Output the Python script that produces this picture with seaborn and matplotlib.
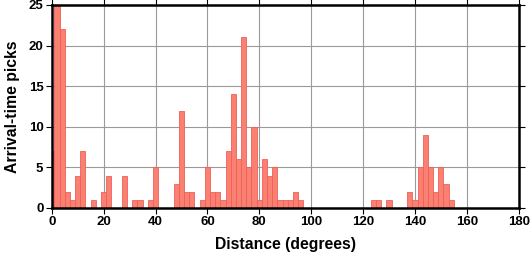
import matplotlib
matplotlib.use("Agg")
import matplotlib.pyplot as plt
import seaborn as sns
import numpy as np
import pandas as pd

# bin centres (degrees) and pick counts
distance = [0, 2, 4, 6, 8, 10, 12, 16, 20, 22, 28, 32, 34, 38, 40,
            48, 50, 52, 54, 58, 60, 62, 64, 66, 68, 70, 72, 74, 76, 78,
            80, 82, 84, 86, 88, 90, 92, 94, 96,
            124, 126, 130, 138, 140, 142, 144, 146, 148, 150, 152, 154]
picks = [7, 25, 22, 2, 1, 4, 7, 1, 2, 4, 4, 1, 1, 1, 5,
         3, 12, 2, 2, 1, 5, 2, 2, 1, 7, 14, 6, 21, 5, 10,
         1, 6, 4, 5, 1, 1, 1, 2, 1,
         1, 1, 1, 2, 1, 5, 9, 5, 2, 5, 3, 1]
x_ticks = [0, 20, 40, 60, 80, 100, 120, 140, 160, 180]
y_ticks = [0, 5, 10, 15, 20, 25]

df = pd.DataFrame({"distance": distance, "picks": picks})

sns.set_style("white")
plt.rcParams['font.family'] = ['Liberation Sans', 'DejaVu Sans']
plt.rcParams['text.color'] = 'black'
plt.rcParams['axes.labelcolor'] = 'black'
plt.rcParams['xtick.color'] = 'black'
plt.rcParams['ytick.color'] = 'black'

fig = plt.figure(figsize=(5.31, 2.58), dpi=100)
ax = fig.add_axes([0.0974, 0.1938, 0.8795, 0.787])

sns.histplot(data=df, x="distance", weights="picks", binwidth=2,
             binrange=(-1, 181), color="#FA8072", edgecolor="#F0605A",
             linewidth=0.6, alpha=1.0, ax=ax, zorder=3)

ax.set_xlim(0, 180)
ax.set_ylim(0, 25)
ax.set_xticks(x_ticks)
ax.set_yticks(y_ticks)
ax.set_xticklabels([str(t) for t in x_ticks], fontsize=9.5, fontweight='bold')
ax.set_yticklabels([str(t) for t in y_ticks], fontsize=9.5, fontweight='bold')
ax.grid(True, color="#9a9a9a", linewidth=0.8, zorder=0)
ax.set_axisbelow(True)
ax.tick_params(axis='both', which='both', direction='out', length=4, width=0.8,
               top=True, right=True, bottom=True, left=True, pad=2,
               colors='black', labelcolor='black')
for s in ax.spines.values():
    s.set_linewidth(1.8)
    s.set_color('black')
    s.set_zorder(5)
ax.set_xlabel("Distance (degrees)", fontsize=11.3, fontweight='bold',
              labelpad=6, color='black')
ax.set_ylabel("Arrival-time picks", fontsize=11.3, fontweight='bold',
              labelpad=6, color='black')

fig.savefig("out.png", dpi=100)
